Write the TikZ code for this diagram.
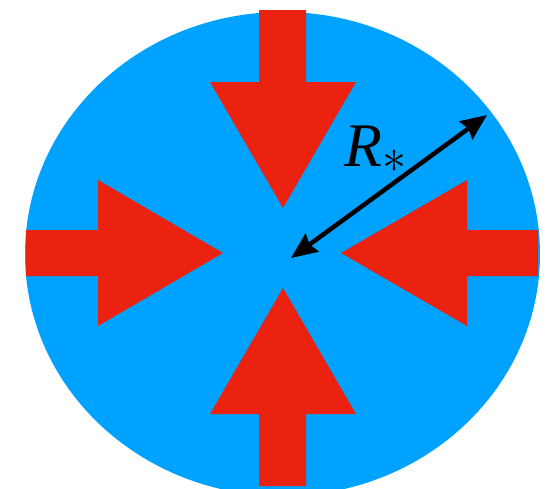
\documentclass[tikz,border=0pt]{standalone}
\usepackage{fix-cm}
\usepackage{fontspec}
\setmainfont{Liberation Serif}
\usetikzlibrary{arrows.meta}
\definecolor{blobblue}{RGB}{0,162,255}
\definecolor{arrowred}{RGB}{236,34,16}
\tikzset{
  redarrow/.style={fill=arrowred, draw=none},
  radius arrow/.style={line width=4.5pt, black, {Stealth[length=26pt,width=22pt,inset=3pt]}-{Stealth[length=26pt,width=22pt,inset=3pt]}},
}
\begin{document}
\begin{tikzpicture}[x=1pt,y=-1pt]
\useasboundingbox (0,0) rectangle (555,488);
\begin{scope}
  \clip (0,0) rectangle (555,488);
  \fill[blobblue] (282.5,254) ellipse [x radius=257.5, y radius=242];
\end{scope}
% top arrow
\fill[redarrow] (259,10) -- (306,10) -- (306,82) -- (356,82) -- (283,208) -- (210,82) -- (259,82) -- cycle;
% bottom arrow
\fill[redarrow] (259,486) -- (306,486) -- (306,414) -- (356,414) -- (283,288) -- (210,414) -- (259,414) -- cycle;
% left arrow
\fill[redarrow] (26,230) -- (98,230) -- (98,180) -- (223,253) -- (98,326) -- (98,276) -- (26,276) -- cycle;
% right arrow
\fill[redarrow] (538,230) -- (467,230) -- (467,180) -- (341,253) -- (467,326) -- (467,276) -- (538,276) -- cycle;
% radius
\coordinate (centre) at (291,258);
\coordinate (rim) at (487,115);
\draw[radius arrow] (centre) -- (rim);
\node[anchor=base west, inner sep=0pt] (lbl) at (344,166) {\fontsize{62}{62}\selectfont\itshape R};
\node[inner sep=0pt] (star) at (394.5,161.5) {\fontsize{48}{48}\selectfont $\ast$};
\end{tikzpicture}
\end{document}
